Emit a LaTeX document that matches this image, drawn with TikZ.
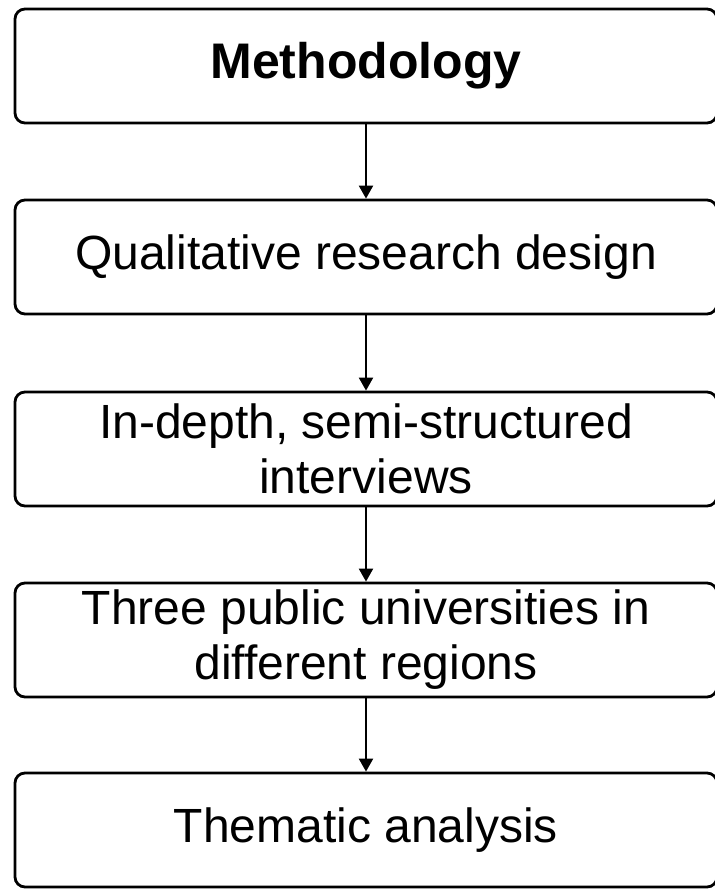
\documentclass[tikz,border=0pt]{standalone}
\usepackage{fontspec}
\setmainfont{Liberation Sans}
\usetikzlibrary{arrows.meta}

\tikzset{
	stepbox/.style={draw, line width=1.4pt, rounded corners=5pt, minimum width=351pt, minimum height=57pt, inner sep=0pt, align=center, font=\fontsize{24}{27.5}\selectfont},
	flow/.style={-{Triangle[length=6.5pt,width=7pt]}, line width=1.1pt}
}

\begin{document}
\begin{tikzpicture}[x=0.5pt, y=-0.5pt]
	%%%%% START %%%%%
	\useasboundingbox (0, 0) rectangle (715, 889);
	
	\node[stepbox, font=\fontsize{25}{28}\selectfont\bfseries] (method) at (366, 66) {Methodology};
	\node[stepbox] (design) at (366, 257) {Qualitative research design};
	\node[stepbox] (interviews) at (366, 449) {In-depth, semi-structured\\interviews};
	\node[stepbox] (universities) at (366, 640) {Three public universities in\\different regions};
	\node[stepbox] (analysis) at (366, 830) {Thematic analysis};
	
	\draw[flow] (method) -- (design);
	\draw[flow] (design) -- (interviews);
	\draw[flow] (interviews) -- (universities);
	\draw[flow] (universities) -- (analysis);
	
	%%%%% END %%%%%
\end{tikzpicture}
\end{document}
